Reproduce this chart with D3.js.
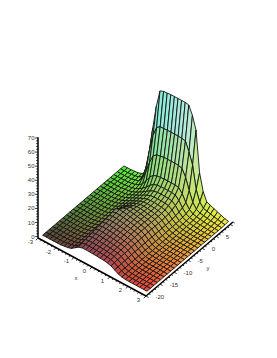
<!DOCTYPE html>
<html><head><meta charset="utf-8">
<style>html,body{margin:0;padding:0;background:#fff}svg{display:block}text{font-family:"Liberation Sans",sans-serif;font-size:6px;fill:#333}</style>
<script src="https://cdn.jsdelivr.net/npm/d3@7"></script></head><body><svg id="c" width="277" height="358"></svg>
<script>
const xTicks=[-3,-2,-1,0,1,2,3];
const yTicks=[-20,-15,-10,-5,0,5];
const zTicks=[0,10,20,30,40,50,60,70];
const xRange=[-2.9,2.9];
const yRange=[-19,10];
// surface heights, row = y from low to high, column = x from low to high
const zRows=[
[0,0,0,0,0,.1,.4,.8,1.6,3.4,5.2,6,6.1,6,5.9,5.8,5.6,5.4,5,4.2,2.8,1.3,.5,.1,0,0,0,0,0,0],
[0,0,0,0,0,.1,.4,.8,1.6,3,6.1,6.6,6.6,6.5,6.4,6.2,6,5.8,5.3,4.4,2.9,1.4,.5,.1,0,0,0,0,0,0],
[0,0,0,0,0,.1,.4,.8,1.6,2.8,6.5,7,7,6.9,6.8,6.6,6.3,6,5.5,4.6,3,1.4,.5,.1,0,0,0,0,0,0],
[0,0,0,0,0,.1,.4,.8,1.7,2.8,6.9,7.4,7.4,7.3,7.1,6.9,6.6,6.3,5.8,4.8,3.1,1.5,.6,.2,0,0,0,0,0,0],
[0,0,0,0,0,.1,.4,.8,1.7,2.7,7.3,7.9,7.9,7.7,7.5,7.2,6.9,6.5,6,5,3.2,1.5,.6,.2,0,0,0,0,0,0],
[0,0,0,0,0,.1,.4,.8,1.7,2.7,7.7,8.4,8.3,8.1,7.9,7.6,7.2,6.8,6.2,5.1,3.3,1.6,.6,.2,0,0,0,0,0,0],
[0,0,0,0,0,.1,.4,.9,1.8,2.8,8.1,8.8,8.7,8.5,8.2,7.9,7.5,7,6.4,5.3,3.4,1.6,.7,.2,0,0,0,0,0,0],
[0,0,0,0,0,.1,.4,.9,1.8,2.8,8.5,9.2,9.1,8.9,8.6,8.2,7.8,7.3,6.6,5.4,3.4,1.7,.7,.2,0,0,0,0,0,0],
[0,0,0,0,0,.1,.4,.9,1.8,2.8,8.9,9.6,9.5,9.2,8.9,8.5,8,7.5,6.8,5.5,3.5,1.7,.7,.3,.1,0,0,0,0,0],
[0,0,0,0,0,.1,.4,.9,1.8,2.9,9.3,10,9.9,9.6,9.2,8.8,8.3,7.7,7,5.6,3.5,1.7,.7,.3,.1,0,0,0,0,0],
[0,0,0,0,0,.1,.4,.9,1.9,3,9.7,10.4,10.2,9.9,9.5,9,8.5,7.9,7.1,5.7,3.6,1.8,.7,.3,.1,0,0,0,0,0],
[0,0,0,0,0,.1,.4,1,2,3.2,10.1,10.7,10.4,10.1,9.6,9.1,8.6,8,7.2,5.8,3.6,1.8,.8,.3,.1,0,0,0,0,0],
[0,0,0,0,0,.1,.4,1,2.4,4.5,7.8,9.8,10.4,10.1,9.7,9.2,8.6,8,7.2,5.8,3.6,1.8,.8,.3,.1,0,0,0,0,0],
[0,0,0,0,0,.1,.5,1.2,2.8,4.6,6.8,8.6,9.7,9.9,9.5,9,8.5,7.9,7.2,5.8,3.6,1.8,.8,.3,.1,0,0,0,0,0],
[0,0,0,0,0,.2,.6,1.4,2.8,4.4,6,7.6,8.8,9.4,9.3,8.9,8.4,7.9,7.2,5.8,3.7,1.9,.9,.4,.1,0,0,0,0,0],
[0,0,0,0,0,.2,.7,1.5,2.8,4.2,5.6,7,8.2,8.9,9,8.8,8.4,7.9,7.3,5.9,3.7,1.9,.9,.4,.1,0,0,0,0,0],
[0,0,0,0,0,.2,.7,1.5,2.7,4,5.3,6.6,7.8,8.6,8.8,8.7,8.4,8,7.4,6,3.8,2,1,.5,.2,.1,0,0,0,0],
[0,0,0,0,.1,.3,.7,1.5,2.6,3.9,5.2,6.5,7.7,8.6,8.9,8.9,8.7,8.3,7.8,6.3,4,2.1,1.1,.6,.3,.1,0,0,0,0],
[0,0,0,0,.1,.4,.8,1.5,2.6,3.9,5.2,6.6,8,9,9.4,9.5,9.4,9.2,8.8,7,4.3,2.3,1.2,.7,.4,.2,.1,0,0,0],
[0,0,0,0,.1,.5,.8,1.5,2.6,4,5.5,7.3,9,10.2,10.6,10.8,10.7,10.5,10.2,8.2,5,2.6,1.4,.9,.6,.3,.1,0,0,0],
[0,0,0,0,.2,.5,.9,1.7,3,4.8,7,9.5,11.5,12.3,12.6,12.7,12.7,12.6,12.3,9.8,5.8,3,1.7,1.1,.8,.5,.3,.1,0,0],
[0,0,0,.1,.2,.6,1.2,2.4,4.5,8,12,14.5,15.4,15.8,16,16,16,15.9,15.5,12.5,7.5,4,2.2,1.5,1.1,.7,.4,.2,.1,0],
[0,0,0,.1,.3,1,1.8,5,11,19,25,27,27.5,28,28,28,28,27.8,27,22,14,7,3.5,2.2,1.7,1.2,.8,.5,.2,0],
[0,0,0,.2,.5,1.2,2.5,10,24,36,43,45,45,45.2,45.2,45.2,45.2,45,44.5,38,30,14,6.5,3.5,2.8,2.2,1.5,1,.5,.1],
[0,0,0,.3,.6,1.5,3.5,17,38,55,67,68,68.2,68.5,68.5,68.5,68.5,68.5,68,62,53,24,12,6,5,4,3,2,1,.5]
];
const xs=d3.range(zRows[0].length).map(i=>xRange[0]+i*(xRange[1]-xRange[0])/(zRows[0].length-1));
const ys=d3.range(zRows.length).map(j=>yRange[0]+j*(yRange[1]-yRange[0])/(zRows.length-1));
const xToH=d3.scaleLinear([-3,3],[0,108]),xToV=d3.scaleLinear([-3,3],[0,58]);
const yToH=d3.scaleLinear([-20,11],[0,87]),yToV=d3.scaleLinear([-20,11],[0,-74]);
const zToV=d3.scaleLinear([-1,70],[0,-100]);
const P=(x,y,z)=>[38+xToH(x)+yToH(y),238+xToV(x)+yToV(y)+zToV(z)];
const cR=d3.scaleLinear([-3,3],[78,245]),cG=d3.scaleLinear([-19,10],[68,240]),cB=d3.scaleLinear([0,10,68],[58,98,250]);
const svg=d3.select('#c');
const quads=[];
for(let j=zRows.length-2;j>=0;j--)for(let i=0;i<xs.length-1;i++){
  const c=[[i,j],[i+1,j],[i+1,j+1],[i,j+1]];
  const m=f=>d3.mean(c,f);
  quads.push({pts:c.map(([a,b])=>P(xs[a],ys[b],zRows[b][a])),
    col:`rgb(${cR(m(q=>xs[q[0]]))},${cG(m(q=>ys[q[1]]))},${cB(m(q=>zRows[q[1]][q[0]]))})`});
}
svg.append('g').selectAll('polygon').data(quads).join('polygon')
  .attr('points',d=>d.pts.map(p=>p.join(',')).join(' '))
  .attr('fill',d=>d.col).attr('stroke','#141414').attr('stroke-width',.9).attr('stroke-linejoin','round');
const ax=svg.append('g').attr('stroke','#000');
function axis(a,b,ticks,dx,dy){
  ax.append('line').attr('x1',a[0]).attr('y1',a[1]).attr('x2',b[0]).attr('y2',b[1]).attr('stroke-width',1.5);
  ticks.forEach(t=>ax.append('line').attr('x1',t.p[0]).attr('y1',t.p[1]).attr('x2',t.p[0]+dx*(t.maj?1.6:1)).attr('y2',t.p[1]+dy*(t.maj?1.6:1)).attr('stroke-width',.8));
}
const xMin=d3.range(-3,3.01,.2).map(v=>({p:P(v,-20,-1),maj:Math.abs(v-Math.round(v))<.01}));
const yMin=d3.range(-20,11.01,1).map(v=>({p:P(3,v,-1),maj:v%5===0}));
const zMin=d3.range(0,70.01,2).map(v=>({p:P(-3,-20,v),maj:v%10===0}));
axis(P(-3,-20,-1),P(3,-20,-1),xMin,-1.4,1.4);
axis(P(3,-20,-1),P(3,11,-1),yMin,1.6,.9);
axis(P(-3,-20,-1),P(-3,-20,70.5),zMin,-1.8,0);
const lab=svg.append('g');
xTicks.forEach(v=>{const p=P(v,-20,-1);lab.append('text').attr('x',p[0]-7.5).attr('y',p[1]+6).attr('text-anchor','middle').text(v)});
yTicks.forEach(v=>{const p=P(3,v,-1);lab.append('text').attr('x',p[0]+9.5).attr('y',p[1]+2.5).text(v)});
zTicks.forEach(v=>{const p=P(-3,-20,v);lab.append('text').attr('x',p[0]-3.5).attr('y',p[1]+2).attr('text-anchor','end').text(v)});
lab.append('text').attr('x',76).attr('y',280).attr('text-anchor','middle').text('x');
lab.append('text').attr('x',208).attr('y',270).attr('text-anchor','middle').text('y');
</script></body></html>
